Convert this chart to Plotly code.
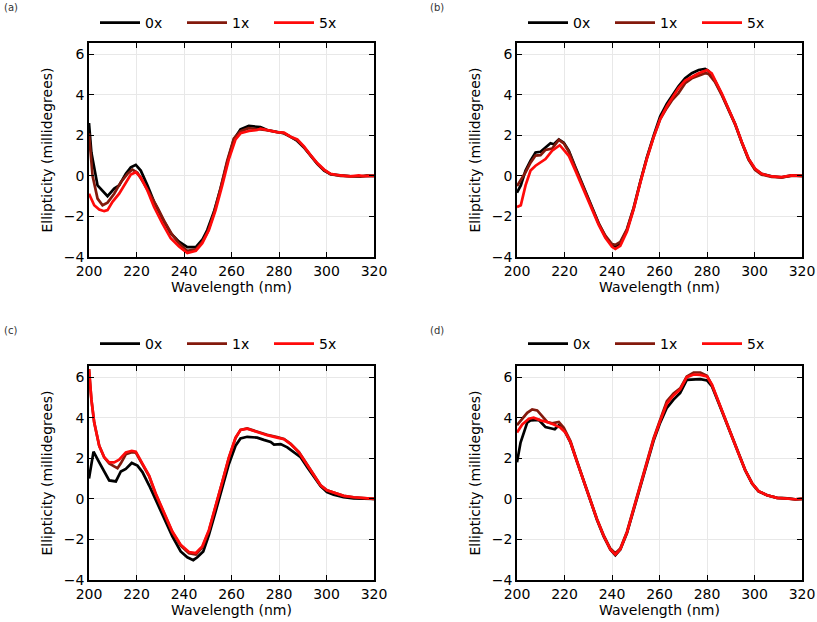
import plotly.graph_objects as go

# ---------------- data ----------------
series_names = ["0x", "1x", "5x"]
series_colors = ["#000000", "#83190c", "#ff0a0a"]
panel_labels = ["(a)", "(b)", "(c)", "(d)"]
x_ticks = [200, 220, 240, 260, 280, 300, 320]
y_ticks = [-4, -2, 0, 2, 4, 6]

# Panel (a)
a_0x_wl = [200, 201, 203.6, 207.8, 210.6, 212.7, 215.5, 217.6, 219.7, 221.8, 224.6, 227.4, 230.9, 234.4, 237.9, 241.4, 245, 247.7, 249.8, 252.6, 255.4, 258.2, 261, 263.8, 267.3, 270.8, 272.2, 275, 279.2, 282.1, 284.9, 287.7, 290.5, 293.3, 296.1, 299, 301.7, 305.9, 310.1, 314.3, 320]
a_0x = [2.6, 1.15, -0.47, -1.0, -0.63, -0.47, 0.1, 0.42, 0.54, 0.26, -0.47, -1.28, -2.1, -2.83, -3.24, -3.51, -3.51, -3.15, -2.67, -1.77, -0.63, 0.67, 1.8, 2.29, 2.46, 2.42, 2.4, 2.26, 2.16, 2.1, 1.92, 1.72, 1.4, 0.99, 0.59, 0.26, 0.08, 0.02, -0.02, -0.02, 0.0]
a_1x_wl = [200, 201.5, 203.6, 205.7, 207.8, 210.6, 213.4, 216.2, 218.3, 220.4, 223.2, 226, 229, 232, 235, 238, 241.4, 245, 247.7, 250, 252.6, 255.4, 258.2, 261, 263.8, 267.3, 270.8, 275, 279.2, 282.1, 284.9, 287.7, 290.5, 293.3, 296.1, 299, 301.7, 305.9, 310, 314.3, 317, 320]
a_1x = [2.1, 0.0, -1.12, -1.45, -1.32, -0.88, -0.31, 0.1, 0.31, 0.15, -0.39, -0.95, -1.6, -2.3, -2.9, -3.35, -3.7, -3.62, -3.25, -2.75, -1.85, -0.6, 0.75, 1.85, 2.2, 2.35, 2.32, 2.25, 2.15, 2.1, 1.92, 1.75, 1.42, 1.0, 0.6, 0.28, 0.08, 0.0, -0.03, -0.04, 0.02, 0.0]
a_5x_wl = [200, 202.2, 204.3, 206.4, 207.8, 209.9, 212.7, 215.5, 217.6, 219.7, 221.8, 224.6, 227.4, 230.9, 234.4, 237.9, 241.4, 245, 247.7, 250.5, 253.3, 256.1, 258.9, 261.7, 263.8, 267.3, 270.8, 272.2, 275, 279.2, 282.1, 284.9, 287.7, 290.5, 293.3, 296.1, 299, 301.7, 305.9, 310.1, 313.6, 315.7, 320]
a_5x = [-0.88, -1.45, -1.66, -1.74, -1.69, -1.28, -0.88, -0.31, 0.07, 0.18, -0.07, -0.72, -1.53, -2.34, -3.07, -3.48, -3.8, -3.69, -3.32, -2.67, -1.69, -0.47, 0.83, 1.8, 2.1, 2.21, 2.26, 2.33, 2.26, 2.16, 2.13, 1.93, 1.8, 1.45, 1.02, 0.63, 0.31, 0.1, 0.02, -0.02, 0.02, -0.01, 0.0]

# Panel (b)
b_0x_wl = [200, 201.6, 203.6, 205.7, 207.8, 209.9, 212, 214.1, 215.5, 217.6, 219.7, 221.8, 224.6, 227.4, 230.9, 234.4, 237.2, 240, 241.4, 243.5, 246.3, 249.1, 251.9, 254.7, 257.5, 260.3, 263.1, 265.2, 268, 270.8, 273.6, 276.5, 279.2, 280.7, 283.5, 286.3, 289.1, 291.9, 294.7, 297.5, 300.2, 303, 307.2, 311.4, 315.6, 320]
b_0x = [-0.83, -0.47, 0.26, 0.75, 1.15, 1.19, 1.4, 1.61, 1.56, 1.8, 1.64, 1.24, 0.42, -0.39, -1.37, -2.34, -2.99, -3.43, -3.51, -3.32, -2.67, -1.61, -0.31, 0.91, 1.97, 2.94, 3.56, 3.95, 4.41, 4.81, 5.06, 5.22, 5.27, 5.17, 4.65, 4.0, 3.27, 2.54, 1.64, 0.83, 0.34, 0.1, -0.02, -0.07, 0.02, 0.0]
b_1x_wl = [200, 201.6, 203.6, 205.7, 207.8, 209.9, 212, 214.8, 217.6, 219.7, 221.8, 224.6, 227.4, 230.9, 234.4, 237.2, 240, 241.4, 243.5, 246.3, 249.1, 251.9, 254.7, 257.5, 260.3, 263.1, 265.2, 268, 270.8, 273.6, 276.5, 279.2, 280.7, 283.5, 286.3, 289.1, 291.9, 294.7, 297.5, 300.2, 303, 307.2, 311.4, 315.6, 320]
b_1x = [-0.5, -0.2, 0.18, 0.65, 1.0, 1.02, 1.28, 1.35, 1.77, 1.6, 1.2, 0.38, -0.42, -1.4, -2.36, -2.95, -3.36, -3.4, -3.25, -2.62, -1.58, -0.3, 0.88, 1.9, 2.8, 3.35, 3.72, 4.08, 4.57, 4.81, 4.94, 5.06, 5.03, 4.6, 3.97, 3.25, 2.52, 1.62, 0.8, 0.3, 0.06, -0.05, -0.08, 0.0, 0.0]
b_5x_wl = [200, 201.6, 203.6, 205.7, 207.8, 209.9, 212, 214.8, 218, 219.7, 221.8, 224.6, 227.4, 230.9, 234.4, 237.2, 240, 241.4, 243.5, 246.3, 249.1, 251.9, 254.7, 257.5, 260.3, 263.1, 265.2, 268, 270.8, 273.6, 276.5, 280, 282, 283.5, 286.3, 289.1, 291.9, 294.7, 297.5, 300.2, 303, 307.2, 311.4, 315.6, 320]
b_5x = [-1.53, -1.45, -0.47, 0.26, 0.5, 0.67, 0.83, 1.24, 1.51, 1.28, 0.99, 0.26, -0.5, -1.45, -2.42, -3.05, -3.5, -3.6, -3.45, -2.75, -1.65, -0.35, 0.85, 1.9, 2.8, 3.43, 3.8, 4.33, 4.7, 4.89, 5.06, 5.22, 5.05, 4.7, 4.05, 3.3, 2.55, 1.66, 0.85, 0.36, 0.1, -0.03, -0.06, 0.02, 0.0]

# Panel (c)
c_0x_wl = [200, 201.9, 204.3, 206.4, 208.5, 211.3, 213.4, 215.5, 218, 220.4, 222.5, 225.3, 228.1, 231.6, 235.1, 238.6, 241.4, 243.9, 245.6, 248.1, 250.5, 253.3, 256.1, 258.9, 261.7, 263.8, 266.6, 270.8, 273.6, 276.5, 277.9, 280.7, 283.5, 286.3, 289.1, 291.9, 294.7, 297.5, 300.2, 303, 307.2, 311.4, 320]
c_0x = [1.0, 2.33, 1.8, 1.32, 0.91, 0.86, 1.35, 1.48, 1.77, 1.64, 1.32, 0.67, -0.07, -0.96, -1.85, -2.59, -2.88, -3.02, -2.88, -2.59, -1.77, -0.63, 0.5, 1.72, 2.62, 2.98, 3.06, 3.02, 2.91, 2.81, 2.68, 2.7, 2.54, 2.29, 2.05, 1.56, 1.07, 0.63, 0.34, 0.21, 0.08, 0.02, 0.0]
c_1x_wl = [200, 201, 202.2, 204.3, 206.4, 208.5, 210.6, 212, 213.4, 215.5, 218, 219.7, 222.5, 225.3, 228.1, 231.6, 235.1, 238.6, 242.1, 245, 247.7, 250.5, 253.3, 256.1, 258.9, 261.7, 263.8, 266.6, 270.8, 275, 279.2, 282.1, 284.9, 288.4, 291.9, 294.7, 297.5, 300.2, 303, 307.2, 311.4, 320]
c_1x = [6.4, 4.9, 3.76, 2.62, 2.05, 1.75, 1.6, 1.51, 1.75, 2.2, 2.3, 2.28, 1.7, 1.12, 0.22, -0.76, -1.65, -2.3, -2.68, -2.75, -2.4, -1.58, -0.42, 0.8, 2.02, 3.0, 3.4, 3.47, 3.32, 3.16, 3.05, 2.95, 2.72, 2.3, 1.68, 1.15, 0.67, 0.42, 0.31, 0.15, 0.08, 0.0]
c_5x_wl = [200, 201, 202.2, 204.3, 206.4, 208.5, 210.6, 212.7, 215.5, 218, 219.7, 222.5, 225.3, 228.1, 231.6, 235.1, 238.6, 242.1, 245, 247.7, 250.5, 253.3, 256.1, 258.9, 261.7, 263.8, 266.6, 270.8, 275, 279.2, 282.1, 284.9, 288.4, 291.9, 294.7, 297.5, 300.2, 303, 307.2, 311.4, 320]
c_5x = [6.4, 4.9, 3.76, 2.62, 2.05, 1.8, 1.8, 1.93, 2.29, 2.37, 2.33, 1.72, 1.15, 0.26, -0.72, -1.61, -2.26, -2.62, -2.67, -2.34, -1.53, -0.39, 0.83, 2.05, 3.02, 3.4, 3.46, 3.3, 3.14, 3.02, 2.94, 2.7, 2.29, 1.67, 1.15, 0.67, 0.42, 0.31, 0.15, 0.08, 0.0]

# Panel (d)
d_0x_wl = [200, 201.5, 204.3, 205.7, 209.2, 212, 214.1, 215.9, 217.6, 219.7, 222.5, 225.3, 228.1, 230.9, 233.7, 236.5, 239.3, 241.4, 243.5, 246.3, 249.1, 251.9, 254.7, 257.5, 260.3, 263.1, 265.9, 268.7, 271.5, 274.4, 277.2, 280, 282.1, 284.9, 287.7, 290.5, 293.3, 296.1, 299, 301.7, 305.3, 309.5, 313.7, 317.2, 320]
d_0x = [1.8, 2.78, 3.76, 3.87, 3.89, 3.54, 3.48, 3.43, 3.63, 3.43, 2.78, 1.8, 0.83, -0.15, -1.04, -1.85, -2.5, -2.78, -2.5, -1.69, -0.55, 0.67, 1.8, 2.86, 3.76, 4.49, 4.89, 5.22, 5.87, 5.9, 5.9, 5.84, 5.54, 4.73, 3.92, 3.02, 2.21, 1.4, 0.75, 0.37, 0.18, 0.05, 0.02, -0.02, 0.0]
d_1x_wl = [200, 202.2, 204.3, 206.4, 208.5, 210.6, 212.7, 214.8, 217.6, 219.7, 222.5, 225.3, 228.1, 230.9, 233.7, 236.5, 239.3, 241.4, 243.5, 246.3, 249.1, 251.9, 254.7, 257.5, 260.3, 263.1, 265.9, 268.7, 271.5, 274.4, 277.2, 280, 282.1, 284.9, 287.7, 290.5, 293.3, 296.1, 299, 301.7, 305.3, 309.5, 313.7, 317.2, 320]
d_1x = [3.63, 3.92, 4.24, 4.41, 4.36, 4.08, 3.79, 3.72, 3.79, 3.51, 2.85, 1.85, 0.87, -0.12, -1.0, -1.8, -2.45, -2.68, -2.45, -1.62, -0.48, 0.75, 1.9, 2.98, 3.9, 4.81, 5.19, 5.45, 6.03, 6.23, 6.23, 6.07, 5.6, 4.78, 3.95, 3.05, 2.23, 1.42, 0.77, 0.38, 0.18, 0.05, 0.02, -0.03, 0.0]
d_5x_wl = [200, 202.2, 205, 207, 209.9, 212.7, 215.5, 218.3, 220.4, 222.5, 225.3, 228.1, 230.9, 233.7, 236.5, 239.3, 241.4, 243.5, 246.3, 249.1, 251.9, 254.7, 257.5, 260.3, 263.1, 265.9, 268.7, 271.5, 274.4, 277.2, 280, 282.1, 284.9, 287.7, 290.5, 293.3, 296.1, 299, 301.7, 305.3, 309.5, 313.7, 317.2, 320]
d_5x = [3.27, 3.67, 3.95, 4.0, 3.87, 3.79, 3.67, 3.51, 3.27, 2.8, 1.82, 0.85, -0.13, -1.02, -1.83, -2.5, -2.75, -2.48, -1.66, -0.5, 0.72, 1.85, 2.93, 3.85, 4.7, 5.1, 5.4, 6.0, 6.13, 6.11, 6.03, 5.63, 4.76, 3.94, 3.04, 2.22, 1.41, 0.76, 0.38, 0.18, 0.05, 0.02, -0.02, 0.0]

panels = [
    [(a_0x_wl, a_0x), (a_1x_wl, a_1x), (a_5x_wl, a_5x)],
    [(b_0x_wl, b_0x), (b_1x_wl, b_1x), (b_5x_wl, b_5x)],
    [(c_0x_wl, c_0x), (c_1x_wl, c_1x), (c_5x_wl, c_5x)],
    [(d_0x_wl, d_0x), (d_1x_wl, d_1x), (d_5x_wl, d_5x)],
]

# ---------------- layout ----------------
W, H = 817, 622
FONT = "DejaVu Sans"
# plot-area pixel boxes (left, top, right, bottom)
boxes = [(89, 43, 374, 257), (517, 43, 802, 257), (89, 366, 374, 580), (517, 366, 802, 580)]
legend_pos = [(95, 23), (523, 23), (95, 344), (523, 344)]
label_pos = [(2, 8), (428, 8), (2, 330), (428, 330)]

fig = go.Figure()
layout = dict(
    width=W, height=H, margin=dict(l=0, r=0, t=0, b=0, autoexpand=False),
    paper_bgcolor="white", plot_bgcolor="white",
    font=dict(family=FONT, size=14, color="#000000"),
    annotations=[],
)

for i, (panel, box) in enumerate(zip(panels, boxes)):
    n = "" if i == 0 else str(i + 1)
    lg = "legend" if i == 0 else f"legend{i + 1}"
    for (wl, vals), name, col in zip(panel, series_names, series_colors):
        fig.add_trace(go.Scatter(
            x=wl, y=vals, mode="lines", name=name,
            line=dict(color=col, width=2.7),
            xaxis="x" + n, yaxis="y" + n, legend=lg,
        ))
    l, t, r, b = box
    common = dict(
        showline=True, linecolor="#000000", linewidth=1.5, mirror="ticks",
        ticks="inside", ticklen=5, tickwidth=1.2, tickcolor="#000000",
        showgrid=True, gridcolor="#e8e8e8", gridwidth=1,
        zeroline=False, tickfont=dict(family=FONT, size=14),
    )
    layout["xaxis" + n] = dict(
        common, domain=[l / W, r / W], range=[200, 320], tickvals=x_ticks,
        anchor="y" + n,
        title=dict(text="Wavelength (nm)", standoff=4, font=dict(size=14)),
    )
    layout["yaxis" + n] = dict(
        common, domain=[1 - b / H, 1 - t / H], range=[-4, 6.55], tickvals=y_ticks,
        anchor="x" + n,
        title=dict(text="Ellipticity (millidegrees)", standoff=8, font=dict(size=14)),
    )
    lx, ly = legend_pos[i]
    layout[lg] = dict(
        orientation="h", x=lx / W, y=1 - ly / H, xanchor="left", yanchor="middle",
        font=dict(family=FONT, size=14), bgcolor="rgba(0,0,0,0)",
        entrywidth=32, entrywidthmode="pixels", itemwidth=40,
    )
    px_, py_ = label_pos[i]
    layout["annotations"].append(dict(
        text=panel_labels[i], x=px_ / W, y=1 - py_ / H, xref="paper", yref="paper",
        xanchor="left", yanchor="middle", showarrow=False,
        font=dict(family=FONT, size=10, color="#333333"),
    ))

fig.update_layout(**layout)
fig.write_html(
    "out.html",
    config={"displayModeBar": False},
    post_script="document.body.style.margin='0';document.body.style.overflow='hidden';",
)
